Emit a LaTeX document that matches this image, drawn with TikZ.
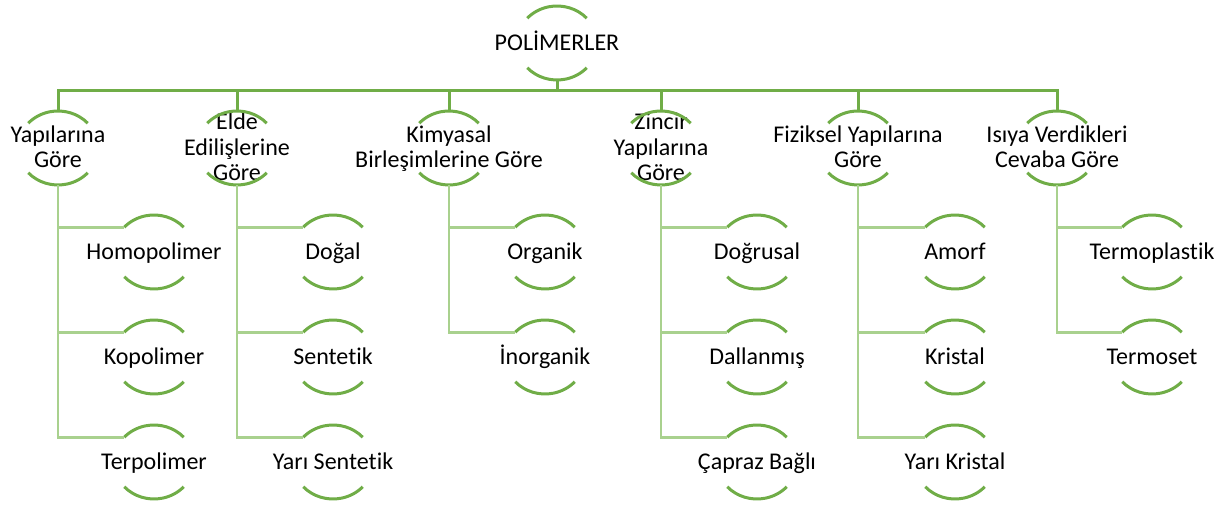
\documentclass[tikz,border=0pt]{standalone}
\usepackage{fontspec}
\setmainfont{Carlito}[Ligatures=NoCommon]
\definecolor{arcg}{HTML}{70AD47}
\definecolor{lightg}{HTML}{A9D18E}
\tikzset{
  lbl/.style={inner sep=0pt, align=center, font=\fontsize{24}{25.5}\selectfont, text=black, yshift=-2pt},
  arcline/.style={draw=arcg, line width=3pt},
  connone/.style={draw=arcg, line width=3pt},
  conntwo/.style={draw=lightg, line width=2.8pt},
}
\newcommand\hnode[4]{%
  \coordinate (#1-c) at (#2,#3);
  \node[lbl] (#1) at (#1-c) {#4};
  \coordinate (#1-t) at (#2,#3+37);
  \coordinate (#1-b) at (#2,#3-37);
  \coordinate (#1-l) at (#2-29.7,#3+24.8);
  \draw[arcline] ([shift={(42:40pt and 37pt)}]#1-c) arc[start angle=42,end angle=138,x radius=40pt,y radius=37pt];
  \draw[arcline] ([shift={(222:40pt and 37pt)}]#1-c) arc[start angle=222,end angle=318,x radius=40pt,y radius=37pt];
}
\begin{document}
\begin{tikzpicture}[x=1pt,y=1pt]
\fill[white] (0,0) rectangle (1232,506);
\useasboundingbox (0,0) rectangle (1232,506);
% root
\hnode{root}{557}{463}{POLİMERLER\strut}
\coordinate (bus) at (557,415);
% level 1
\hnode{a}{58}{358}{Yapılarına\strut\\Göre\strut}
\hnode{b}{237}{358}{Elde\strut\\Edilişlerine\strut\\Göre\strut}
\hnode{c}{449}{358}{Kimyasal\strut\\Birleşimlerine Göre\strut}
\hnode{d}{661}{358}{Zincir\strut\\Yapılarına\strut\\Göre\strut}
\hnode{e}{858}{358}{Fiziksel Yapılarına\strut\\Göre\strut}
\hnode{f}{1057}{358}{Isıya Verdikleri\strut\\Cevaba Göre\strut}
% level 2
\hnode{a1}{154}{254}{Homopolimer\strut}
\hnode{a2}{154}{149}{Kopolimer\strut}
\hnode{a3}{154}{44}{Terpolimer\strut}
\hnode{b1}{333}{254}{Doğal\strut}
\hnode{b2}{333}{149}{Sentetik\strut}
\hnode{b3}{333}{44}{Yarı Sentetik\strut}
\hnode{c1}{545}{254}{Organik\strut}
\hnode{c2}{545}{149}{İnorganik\strut}
\hnode{d1}{757}{254}{Doğrusal\strut}
\hnode{d2}{757}{149}{Dallanmış\strut}
\hnode{d3}{757}{44}{Çapraz Bağlı\strut}
\hnode{e1}{955}{254}{Amorf\strut}
\hnode{e2}{955}{149}{Kristal\strut}
\hnode{e3}{955}{44}{Yarı Kristal\strut}
\hnode{f1}{1152}{254}{Termoplastik\strut}
\hnode{f2}{1152}{149}{Termoset\strut}
% level 1 connectors
\draw[connone] (root-b) -- (bus);
\draw[connone] (a-t) -- (a-t |- bus) -- (f-t |- bus) -- (f-t);
\foreach \n in {b,c,d,e} \draw[connone] (\n-t) -- (\n-t |- bus);
% level 2 connectors
\foreach \p/\k in {a/a1,a/a2,a/a3,b/b1,b/b2,b/b3,c/c1,c/c2,d/d1,d/d2,d/d3,e/e1,e/e2,e/e3,f/f1,f/f2}
  \draw[conntwo] (\p-b) |- (\k-l);
\end{tikzpicture}
\end{document}
